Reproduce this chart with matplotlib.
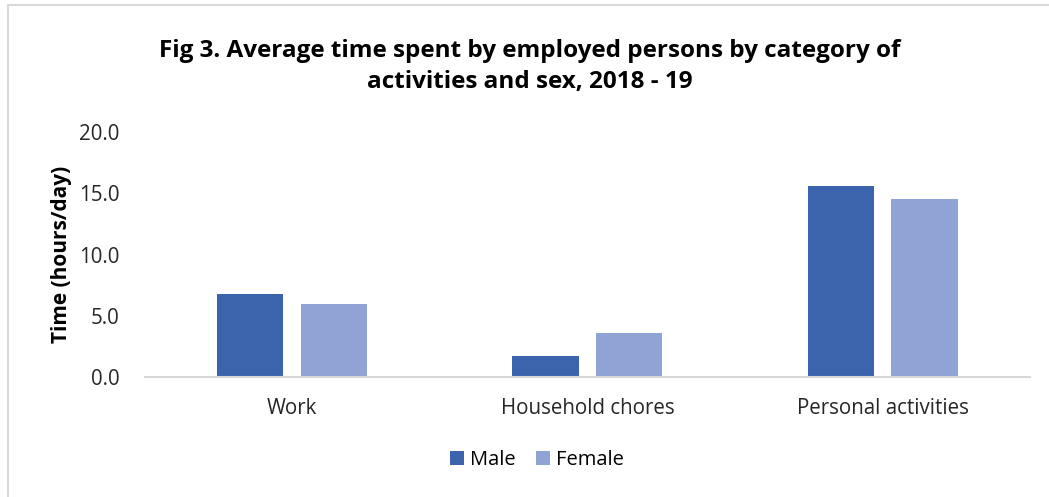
import numpy as np
import matplotlib.pyplot as plt
from matplotlib.patches import Rectangle

# data
categories = ['Work', 'Household chores', 'Personal activities']
male = [6.8, 1.7, 15.6]
female = [6.0, 3.6, 14.5]

plt.rcParams['font.family'] = ['Open Sans', 'DejaVu Sans']

fig = plt.figure(figsize=(10.49, 4.97), dpi=100)
ax = fig.add_axes([0.138, 0.2414, 0.844, 0.4930])

x = np.arange(len(categories))
w = 0.224
off = 0.142
ax.bar(x - off, male, w, color='#3c64ad', label='Male')
ax.bar(x + off, female, w, color='#8fa3d4', label='Female')

ax.set_xlim(-0.5, 2.5)
ax.set_ylim(0, 20)
ticks = np.arange(0, 20.1, 5)
ax.set_yticks(ticks)
ax.set_yticklabels([f'{v:.1f}' for v in ticks])
ax.set_xticks(x)
ax.set_xticklabels(categories)
ax.tick_params(length=0, labelsize=14.8, colors='#262626')
ax.tick_params(axis='x', pad=15)
ax.tick_params(axis='y', pad=18)

for s in ['top', 'right', 'left']:
    ax.spines[s].set_visible(False)
ax.spines['bottom'].set_color('#d9d9d9')
ax.spines['bottom'].set_linewidth(1.5)

ax.set_ylabel('Time (hours/day)', fontsize=15, fontweight='bold', labelpad=5)

fig.text(0.505, 0.866, 'Fig 3. Average time spent by employed persons by category of\nactivities and sex, 2018 - 19',
         ha='center', va='center', fontsize=17.5, fontweight='bold', linespacing=1.35)

fig.legend(loc='center', bbox_to_anchor=(0.512, 0.074), ncol=2, frameon=False,
           fontsize=14.5, handlelength=0.7, handleheight=0.7, handletextpad=0.3, columnspacing=1.0)

# outer chart border (right and bottom edges fall outside the image)
fig.patches.append(Rectangle((0.008, -0.1), 1.1, 1.09, transform=fig.transFigure,
                             fill=False, edgecolor='#d9d9d9', linewidth=1.5))

fig.savefig('out.png', dpi=100)
